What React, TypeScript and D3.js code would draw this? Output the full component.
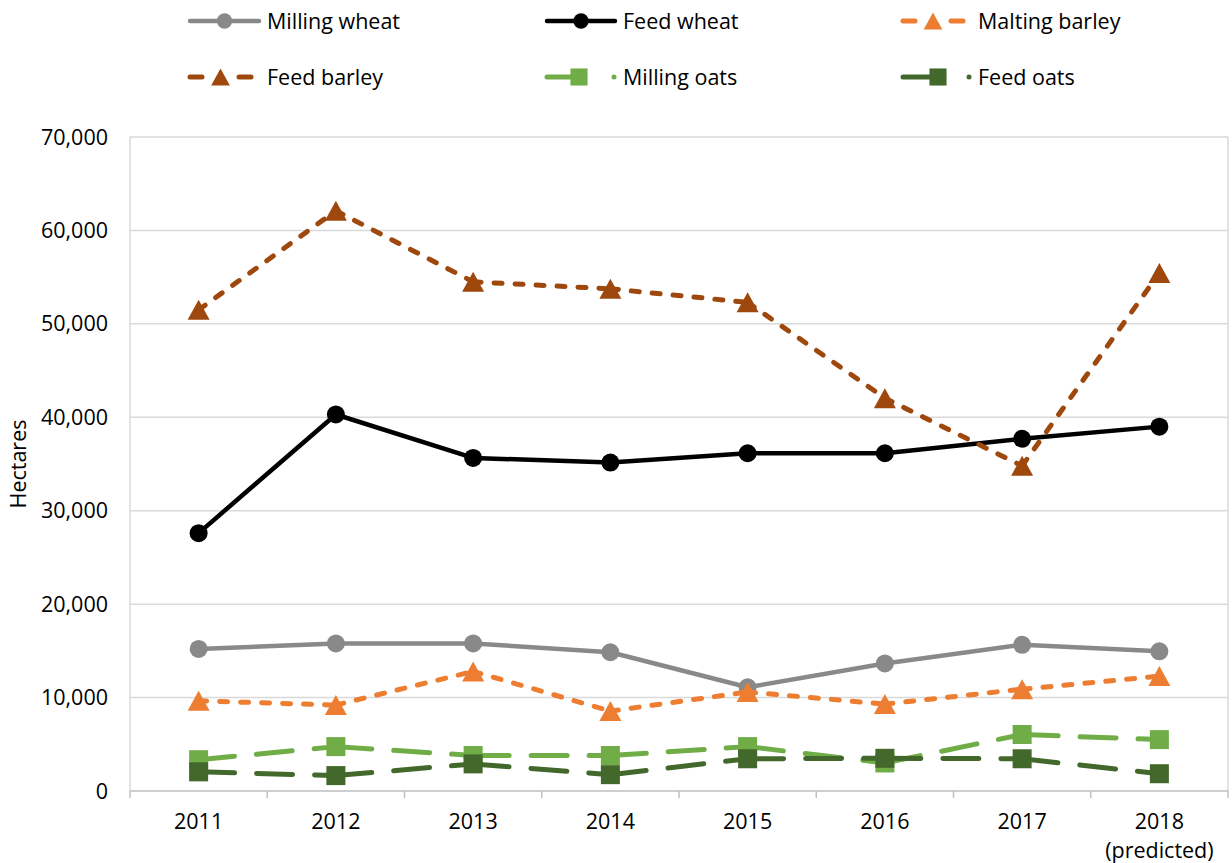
import React, { useEffect, useRef } from "react";
import * as d3 from "d3";

// categories and series values (hectares)
const years = ["2011", "2012", "2013", "2014", "2015", "2016", "2017", "2018"];
const millingWheat = [15200, 15800, 15800, 14850, 11100, 13650, 15650, 14950];
const feedWheat = [27600, 40300, 35650, 35150, 36150, 36150, 37700, 39000];
const maltingBarley = [9650, 9200, 12800, 8550, 10600, 9300, 10900, 12300];
const feedBarley = [51500, 62100, 54500, 53750, 52300, 42050, 34800, 55450];
const millingOats = [3350, 4750, 3800, 3800, 4750, 3000, 6050, 5500];
const feedOats = [2050, 1650, 2900, 1750, 3450, 3500, 3450, 1850];
const yTicks = [0, 10000, 20000, 30000, 40000, 50000, 60000, 70000];

type Marker = "circle" | "triangle" | "square";

const series = [
  { name: "Milling wheat", values: millingWheat, color: "#898989", dash: null, marker: "circle" as Marker },
  { name: "Feed wheat", values: feedWheat, color: "#000000", dash: null, marker: "circle" as Marker },
  { name: "Malting barley", values: maltingBarley, color: "#ED7D31", dash: "8,13", marker: "triangle" as Marker },
  { name: "Feed barley", values: feedBarley, color: "#9E480E", dash: "8,13", marker: "triangle" as Marker },
  { name: "Milling oats", values: millingOats, color: "#70AD47", dash: "36,22", marker: "square" as Marker },
  { name: "Feed oats", values: feedOats, color: "#43682B", dash: "36,22", marker: "square" as Marker },
];

const FONT = "'Open Sans', 'Liberation Sans', sans-serif";
const FS = "21.5px";

function drawMarker(g: any, kind: Marker, x: number, y: number, color: string, size = 1) {
  if (kind === "circle") {
    g.append("circle").attr("cx", x).attr("cy", y).attr("r", 9 * size).attr("fill", color);
  } else if (kind === "triangle") {
    const w = 22 * size;
    const h = 20 * size;
    g.append("path")
      .attr("d", `M${x},${y - h / 2}L${x + w / 2},${y + h / 2}L${x - w / 2},${y + h / 2}Z`)
      .attr("fill", color);
  } else {
    const s = 19 * size;
    g.append("rect")
      .attr("x", x - s / 2)
      .attr("y", y - s / 2)
      .attr("width", s)
      .attr("height", s)
      .attr("fill", color);
  }
}

export default function App() {
  const ref = useRef<SVGSVGElement>(null);

  useEffect(() => {
    const svg = d3.select(ref.current);
    svg.selectAll("*").remove();

    const left = 130;
    const right = 1228;
    const top = 137;
    const bottom = 791;

    const x = d3.scaleBand().domain(years).range([left, right]);
    const y = d3.scaleLinear().domain([0, 70000]).range([bottom, top]);
    const cx = (d: string) => (x(d) as number) + x.bandwidth() / 2;

    // gridlines
    svg
      .append("g")
      .selectAll("line")
      .data(yTicks.filter((t) => t > 0))
      .enter()
      .append("line")
      .attr("x1", left)
      .attr("x2", right)
      .attr("y1", (d) => y(d))
      .attr("y2", (d) => y(d))
      .attr("stroke", "#d9d9d9")
      .attr("stroke-width", 1.5);

    // left and right edges
    [left, right].forEach((xx) => {
      svg
        .append("line")
        .attr("x1", xx)
        .attr("x2", xx)
        .attr("y1", top)
        .attr("y2", bottom)
        .attr("stroke", "#d9d9d9")
        .attr("stroke-width", 1.5);
    });

    // x axis line and ticks at band boundaries
    svg
      .append("line")
      .attr("x1", left)
      .attr("x2", right)
      .attr("y1", bottom)
      .attr("y2", bottom)
      .attr("stroke", "#bfbfbf")
      .attr("stroke-width", 1.5);
    const bounds = years.map((d) => x(d) as number).concat([right]);
    svg
      .append("g")
      .selectAll("line")
      .data(bounds)
      .enter()
      .append("line")
      .attr("x1", (d) => d)
      .attr("x2", (d) => d)
      .attr("y1", bottom)
      .attr("y2", bottom + 7)
      .attr("stroke", "#bfbfbf")
      .attr("stroke-width", 1.5);

    // y tick labels
    svg
      .append("g")
      .selectAll("text")
      .data(yTicks)
      .enter()
      .append("text")
      .attr("x", 108)
      .attr("y", (d) => y(d))
      .attr("dy", "0.35em")
      .attr("text-anchor", "end")
      .style("font-family", FONT)
      .style("font-size", FS)
      .attr("fill", "#000")
      .text((d) => d3.format(",")(d));

    // x labels
    svg
      .append("g")
      .selectAll("text")
      .data(years)
      .enter()
      .append("text")
      .attr("x", (d) => cx(d))
      .attr("y", 829)
      .attr("text-anchor", "middle")
      .style("font-family", FONT)
      .style("font-size", FS)
      .text((d) => d);
    svg
      .append("text")
      .attr("x", cx("2018"))
      .attr("y", 858)
      .attr("text-anchor", "middle")
      .style("font-family", FONT)
      .style("font-size", FS)
      .text("(predicted)");

    // axis title
    svg
      .append("text")
      .attr("transform", `translate(26,${(top + bottom) / 2})rotate(-90)`)
      .attr("text-anchor", "middle")
      .style("font-family", FONT)
      .style("font-size", FS)
      .text("Hectares");

    // series: each segment drawn on its own so the dash pattern restarts, like Excel
    series.forEach((s) => {
      const g = svg.append("g");
      for (let i = 0; i < years.length - 1; i++) {
        const seg = g
          .append("line")
          .attr("x1", cx(years[i]))
          .attr("y1", y(s.values[i]))
          .attr("x2", cx(years[i + 1]))
          .attr("y2", y(s.values[i + 1]))
          .attr("stroke", s.color)
          .attr("stroke-width", s.dash ? 5 : 4.5)
          .attr("stroke-linecap", "round");
        if (s.dash) seg.attr("stroke-dasharray", s.dash);
      }
      s.values.forEach((v, i) => drawMarker(g, s.marker, cx(years[i]), y(v), s.color));
    });

    // legend
    const legend = [
      { s: series[0], x0: 190, x1: 259, tx: 267, ly: 21 },
      { s: series[1], x0: 547, x1: 615, tx: 623, ly: 21 },
      { s: series[2], x0: 903, x1: 963, tx: 978, ly: 21 },
      { s: series[3], x0: 190, x1: 251, tx: 267, ly: 77 },
      { s: series[4], x0: 547, x1: 581, tx: 623, ly: 77 },
      { s: series[5], x0: 903, x1: 940, tx: 978, ly: 77 },
    ];
    legend.forEach((l) => {
      const g = svg.append("g");
      const { s } = l;
      if (s.marker === "square") {
        g.append("line")
          .attr("x1", l.x0)
          .attr("x2", l.x1)
          .attr("y1", l.ly)
          .attr("y2", l.ly)
          .attr("stroke", s.color)
          .attr("stroke-width", 5)
          .attr("stroke-linecap", "round");
        drawMarker(g, "square", l.x1 - 2, l.ly, s.color, 0.9);
        g.append("circle").attr("cx", l.tx - 9).attr("cy", l.ly).attr("r", 2.5).attr("fill", s.color);
      } else {
        const line = g
          .append("line")
          .attr("x1", l.x0)
          .attr("x2", l.x1)
          .attr("y1", l.ly)
          .attr("y2", l.ly)
          .attr("stroke", s.color)
          .attr("stroke-width", s.dash ? 5 : 4.5)
          .attr("stroke-linecap", "round");
        if (s.dash) {
          const len = l.x1 - l.x0;
          line.attr("stroke-dasharray", `12,${len - 24}`);
        }
        drawMarker(g, s.marker, (l.x0 + l.x1) / 2, l.ly, s.color, 0.85);
      }
      g.append("text")
        .attr("x", l.tx)
        .attr("y", l.ly)
        .attr("dy", "0.35em")
        .style("font-family", FONT)
        .style("font-size", FS)
        .text(s.name);
    });
  }, []);

  return (
    <svg
      ref={ref}
      width={1232}
      height={863}
      style={{ position: "absolute", left: 0, top: 0, background: "#fff" }}
    />
  );
}
